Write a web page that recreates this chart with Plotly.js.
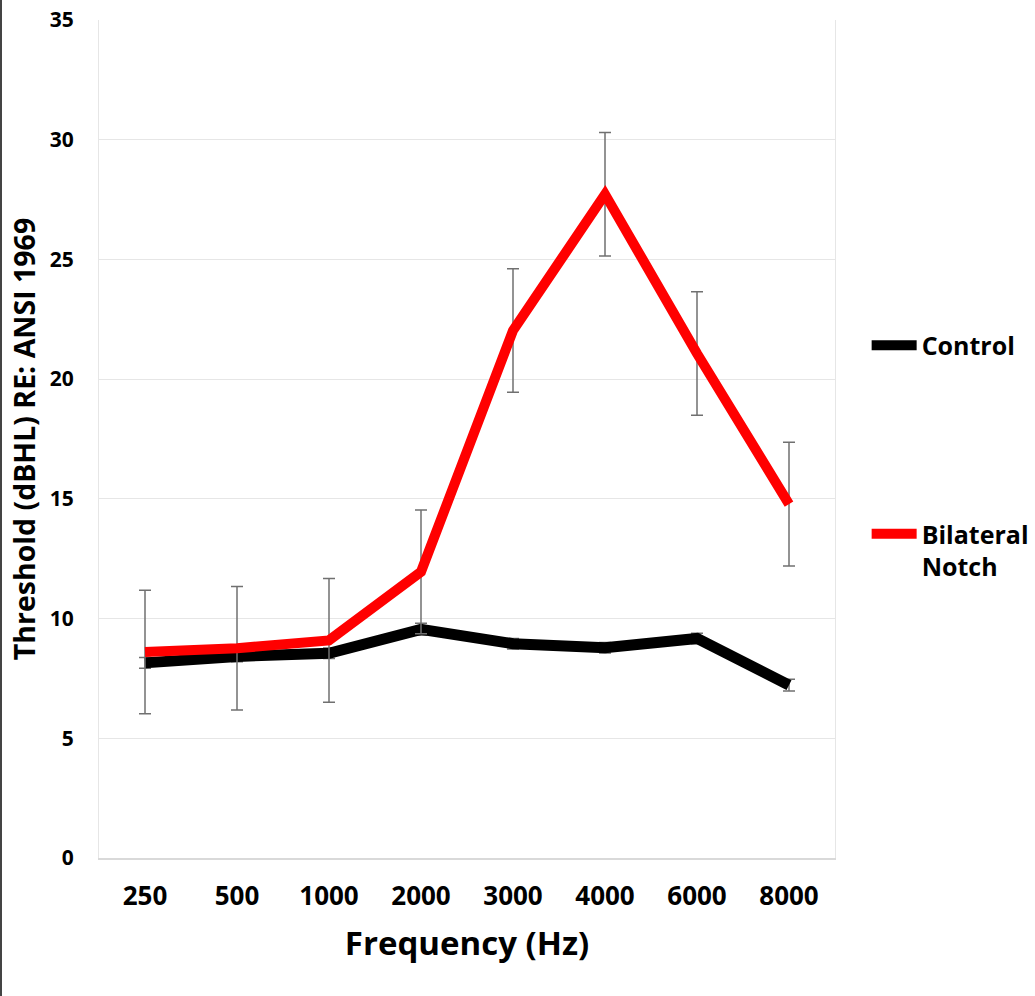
<!DOCTYPE html>
<html>
<head>
<meta charset="utf-8">
<script src="https://cdn.plot.ly/plotly-3.0.1.min.js"></script>
<style>
  html, body { margin: 0; padding: 0; background: #fff; }
  #wrap { position: relative; width: 1035px; height: 996px; }
  #chart { position: absolute; left: 0; top: 0; width: 1035px; height: 996px; }
  #edge { position: absolute; left: 0; top: 0; width: 2px; height: 996px; background: #444; }
</style>
</head>
<body>
<div id="wrap"><div id="chart"></div><div id="edge"></div></div>
<script>
const frequencies = ['250', '500', '1000', '2000', '3000', '4000', '6000', '8000'];
const controlMean = [8.15, 8.42, 8.55, 9.55, 8.95, 8.78, 9.17, 7.22];
const controlErr  = [0.22, 0.22, 0.22, 0.25, 0.22, 0.22, 0.22, 0.25];
const notchMean   = [8.6, 8.76, 9.09, 11.95, 22.03, 27.72, 21.07, 14.78];
const notchErr    = [2.58, 2.58, 2.58, 2.58, 2.58, 2.58, 2.58, 2.58];
const yTicks = [0, 5, 10, 15, 20, 25, 30, 35];

const FONT = "'Open Sans', 'DejaVu Sans', sans-serif";

const traces = [
  {
    type: 'scatter', mode: 'lines', name: 'Control', legendgroup: 'c',
    x: frequencies, y: controlMean,
    line: { color: '#000000', width: 11 },
    error_y: { type: 'data', array: controlErr, visible: true, color: '#707070', thickness: 1.5, width: 6 }
  },
  {
    type: 'scatter', mode: 'lines', name: 'Bilateral<br>Notch', legendgroup: 'n',
    x: frequencies, y: notchMean,
    line: { color: '#ff0000', width: 10 },
    error_y: { type: 'data', array: notchErr, visible: true, color: '#707070', thickness: 1.5, width: 6 }
  }
];

const layout = {
  width: 1035, height: 996,
  margin: { l: 99, r: 200, t: 20, b: 138, autoexpand: false },
  paper_bgcolor: '#ffffff', plot_bgcolor: '#ffffff',
  font: { family: FONT, color: '#000000' },
  xaxis: {
    type: 'category',
    range: [-0.5, 7.5],
    showgrid: false,
    showline: true, linecolor: '#d9d9d9', linewidth: 1.5,
    ticks: '', ticklabelstandoff: 14,
    tickfont: { family: FONT, size: 26, color: '#000', weight: 'bold' },
    title: { text: 'Frequency (Hz)', font: { family: FONT, size: 33, color: '#000', weight: 'bold' }, standoff: 20 }
  },
  yaxis: {
    range: [0, 35],
    tickvals: yTicks,
    ticktext: yTicks.map(String),
    showgrid: true, gridcolor: '#e6e6e6', gridwidth: 1,
    showline: true, mirror: true, linecolor: '#e6e6e6', linewidth: 1,
    zeroline: false,
    ticks: '', ticklabelstandoff: 20,
    tickfont: { family: FONT, size: 21, color: '#000', weight: 'bold' },
    title: { text: 'Threshold (dBHL) RE: ANSI 1969', font: { family: FONT, size: 28.5, color: '#000', weight: 'bold' }, standoff: 5 }
  },
  showlegend: true,
  legend: {
    x: 1.043, xanchor: 'left', y: 0.639, yanchor: 'top',
    font: { family: FONT, size: 25, color: '#000', weight: 'bold' },
    itemwidth: 45, tracegroupgap: 153, valign: 'top',
    bgcolor: 'rgba(0,0,0,0)'
  }
};

Plotly.newPlot('chart', traces, layout, { displayModeBar: false, staticPlot: true });
</script>
</body>
</html>
